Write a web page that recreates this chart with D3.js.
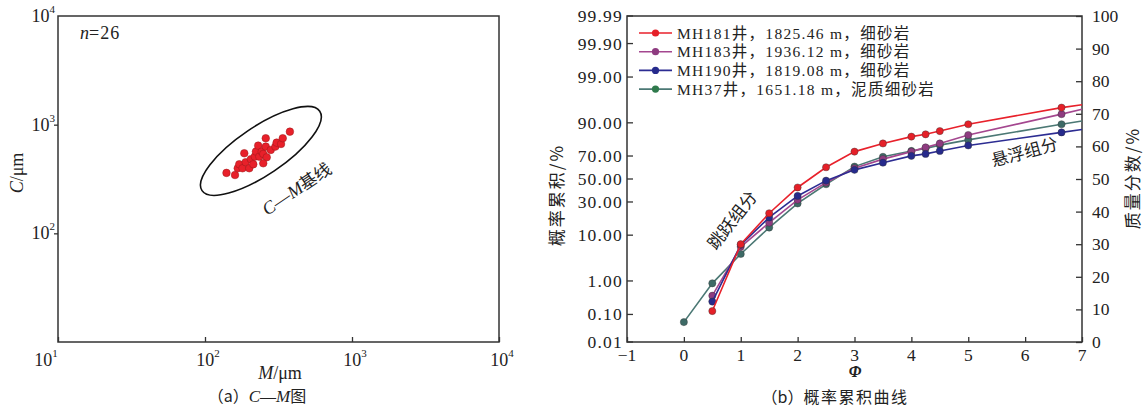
<!DOCTYPE html>
<html>
<head>
<meta charset="utf-8">
<script src="https://cdn.jsdelivr.net/npm/d3@7"></script>
<style>
  body { margin: 0; background: #fff; }
  svg { display: block; }
  text { font-family: "Liberation Serif", "Noto Sans CJK SC", serif; fill: #222; }
  .cjk { font-family: "Noto Sans CJK SC", sans-serif; }
  .axis path, .axis line { stroke: #333; stroke-width: 1.3; }
  .axis text { display: none; }
</style>
</head>
<body>
<script>
// ---- panel (a) data: C-M points, um ----
const cmM = [140, 160, 167, 171, 180, 185, 189, 200, 205, 213, 218, 222, 230,
  234, 243, 249, 259, 259, 263, 280, 301, 307, 329, 338, 378, 249]
const cmC = [360, 344, 397, 432, 397, 546, 451, 397, 481, 432, 508, 565, 641,
  508, 565, 538, 750, 628, 501, 585, 628, 683, 664, 750, 862, 441]
const logTicks = [10, 100, 1000, 10000]

// ---- panel (b) data: cumulative curves, mass fraction % ----
const phi = [0.5, 1, 1.5, 2, 2.5, 3, 3.5, 4, 4.25, 4.5, 5, 6.64]
const phiGreen = [0, 0.5, 1, 1.5, 2, 2.5, 3, 3.5, 4, 4.25, 4.5, 5, 6.64]
const mh181 = [9.5, 30.0, 39.5, 47.4, 53.6, 58.4, 60.9, 63.0, 63.7, 64.7, 66.8, 71.9]
const mh183 = [14.2, 29.2, 36.6, 43.6, 48.9, 53.3, 56.1, 58.4, 59.7, 60.9, 63.5, 69.9]
const mh190 = [12.4, 29.8, 38.2, 44.8, 49.5, 52.8, 55.0, 57.1, 57.7, 58.6, 60.3, 64.3]
const mh37 = [6.1, 18.0, 27.0, 35.1, 42.5, 48.4, 53.8, 56.8, 58.6, 59.4, 60.4, 62.0, 66.8]
// value where each line leaves the frame at phi = 7
const tailValues = [72.8, 71.4, 65.2, 67.8]
const seriesNames = ['MH181井，1825.46 m，细砂岩', 'MH183井，1936.12 m，细砂岩',
  'MH190井，1819.08 m，细砂岩', 'MH37井，1651.18 m，泥质细砂岩']
const probTicks = ['0.01', '0.10', '1.00', '10.00', '30.00', '50.00', '70.00', '90.00', '99.00', '99.90', '99.99']
const phiTicks = [-1, 0, 1, 2, 3, 4, 5, 6, 7]
const massTicks = [0, 10, 20, 30, 40, 50, 60, 70, 80, 90, 100]

// colors
const lineColors = ['#e8212b', '#a4478f', '#2c2c92', '#4b7874']
const dotColors = ['#e52028', '#8e3b80', '#262a8c', '#3d6a66']
const legendDot = ['#e52028', '#8e3b80', '#262a8c', '#2f7a4c']

// inverse normal cdf (Acklam), for the probability axis
function probit(p) {
  const a = [-39.69683028665376, 220.9460984245205, -275.9285104469687, 138.3577518672690, -30.66479806614716, 2.506628277459239]
  const b = [-54.47609879822406, 161.5858368580409, -155.6989798598866, 66.80131188771972, -13.28068155288572]
  const c = [-0.007784894002430293, -0.3223964580411365, -2.400758277161838, -2.549732539343734, 4.374664141464968, 2.938163982698783]
  const d = [0.007784695709041462, 0.3224671290700398, 2.445134137142996, 3.754408661907416]
  const pl = 0.02425
  let q, r
  if (p < pl) {
    q = Math.sqrt(-2 * Math.log(p))
    return (((((c[0]*q+c[1])*q+c[2])*q+c[3])*q+c[4])*q+c[5]) / ((((d[0]*q+d[1])*q+d[2])*q+d[3])*q+1)
  } else if (p <= 1 - pl) {
    q = p - 0.5; r = q * q
    return (((((a[0]*r+a[1])*r+a[2])*r+a[3])*r+a[4])*r+a[5])*q / (((((b[0]*r+b[1])*r+b[2])*r+b[3])*r+b[4])*r+1)
  }
  q = Math.sqrt(-2 * Math.log(1 - p))
  return -(((((c[0]*q+c[1])*q+c[2])*q+c[3])*q+c[4])*q+c[5]) / ((((d[0]*q+d[1])*q+d[2])*q+d[3])*q+1)
}

const $svg = d3.select('body').append('svg').attr('width', 1145).attr('height', 407)

// ================= panel (a) =================
const aLeft = 58, aRight = 499, plotTop = 16, plotBottom = 342
const scaleM = d3.scaleLog().domain([10, 1e4]).range([aLeft, aRight])
const scaleC = d3.scaleLog().domain([10, 1e4]).range([plotBottom, plotTop])

const $a = $svg.append('g')

$a.append('rect')
  .attr('x', aLeft).attr('y', plotTop)
  .attr('width', aRight - aLeft).attr('height', plotBottom - plotTop)
  .attr('fill', 'none').attr('stroke', '#333').attr('stroke-width', 1.5)

// x ticks point inward, y ticks outward
$a.append('g').attr('class', 'axis')
  .attr('transform', `translate(0,${plotBottom})`)
  .call(d3.axisBottom(scaleM).tickValues(logTicks).tickSize(-5).tickSizeOuter(0))
  .select('.domain').remove()
$a.append('g').attr('class', 'axis')
  .attr('transform', `translate(${aLeft},0)`)
  .call(d3.axisLeft(scaleC).tickValues([100, 1000]).tickSize(4).tickSizeOuter(0))
  .select('.domain').remove()

function powLabel(sel, v) {
  const e = Math.round(Math.log10(v))
  sel.append('tspan').text('10')
  sel.append('tspan').text(e).attr('dy', -9).attr('font-size', 11)
}

$a.selectAll('.xlab')
  .data(logTicks)
  .enter().append('text')
  .attr('x', d => scaleM(d) + (d === 10 ? -12 : 3))
  .attr('y', 366)
  .attr('text-anchor', 'middle')
  .attr('font-size', 18)
  .each(function(d) { powLabel(d3.select(this), d) })

$a.selectAll('.ylab')
  .data([100, 1000, 10000])
  .enter().append('text')
  .attr('x', 55)
  .attr('y', d => scaleC(d) + 6)
  .attr('text-anchor', 'end')
  .attr('font-size', 18)
  .each(function(d) { powLabel(d3.select(this), d) })

// base line ellipse around the cloud
const ellCx = scaleM(240), ellCy = scaleC(573)
$a.append('ellipse')
  .attr('cx', 0).attr('cy', 0).attr('rx', 71).attr('ry', 24)
  .attr('transform', `translate(${ellCx},${ellCy}) rotate(-34)`)
  .attr('fill', 'none').attr('stroke', '#111').attr('stroke-width', 1.6)

$a.selectAll('.pt')
  .data(cmM.map((m, i) => ({ m, c: cmC[i] })))
  .enter().append('circle')
  .attr('cx', d => scaleM(d.m))
  .attr('cy', d => scaleC(d.c))
  .attr('r', 3.8)
  .attr('fill', '#e8202a')
  .attr('stroke', '#9a1a1a').attr('stroke-width', 0.5)

const cmLabel = $a.append('text')
  .attr('transform', 'translate(300,194) rotate(-34)')
  .attr('text-anchor', 'middle')
  .attr('font-size', 18)
cmLabel.append('tspan').text('C').attr('font-style', 'italic')
cmLabel.append('tspan').text('—')
cmLabel.append('tspan').text('M').attr('font-style', 'italic')
cmLabel.append('tspan').text('基线').attr('class', 'cjk').attr('font-size', 17)

const nLabel = $a.append('text').attr('x', 80).attr('y', 39).attr('font-size', 18)
nLabel.append('tspan').text('n').attr('font-style', 'italic')
nLabel.append('tspan').text('=26').attr('letter-spacing', 1)

const mTitle = $a.append('text').attr('x', 280).attr('y', 379)
  .attr('text-anchor', 'middle').attr('font-size', 18)
mTitle.append('tspan').text('M').attr('font-style', 'italic')
mTitle.append('tspan').text('/μm')

const cTitle = $a.append('text').attr('transform', 'translate(23,173) rotate(-90)')
  .attr('text-anchor', 'middle').attr('font-size', 18)
cTitle.append('tspan').text('C').attr('font-style', 'italic')
cTitle.append('tspan').text('/μm')

const capA = $a.append('text').attr('x', 257).attr('y', 402)
  .attr('text-anchor', 'middle').attr('font-size', 16)
capA.append('tspan').text('（a）').attr('class', 'cjk')
capA.append('tspan').text('C').attr('font-style', 'italic').attr('font-size', 17)
capA.append('tspan').text('—')
capA.append('tspan').text('M').attr('font-style', 'italic').attr('font-size', 17)
capA.append('tspan').text('图').attr('class', 'cjk')

// ================= panel (b) =================
const bl = 627, br = 1082
const scalePhi = d3.scaleLinear().domain([-1, 7]).range([bl, br])
const scaleMass = d3.scaleLinear().domain([0, 100]).range([plotBottom, plotTop])
const scaleProb = d3.scaleLinear().domain([probit(0.0001), probit(0.9999)]).range([plotBottom, plotTop])
const probY = s => scaleProb(probit(+s / 100))

const $b = $svg.append('g')

$b.append('rect')
  .attr('x', bl).attr('y', plotTop)
  .attr('width', br - bl).attr('height', plotBottom - plotTop)
  .attr('fill', 'none').attr('stroke', '#333').attr('stroke-width', 1.5)

$b.append('g').attr('class', 'axis')
  .attr('transform', `translate(0,${plotBottom})`)
  .call(d3.axisBottom(scalePhi).tickValues(phiTicks).tickSize(-5).tickSizeOuter(0))
  .select('.domain').remove()
$b.append('g').attr('class', 'axis')
  .attr('transform', `translate(${br},0)`)
  .call(d3.axisRight(scaleMass).tickValues(massTicks).tickSize(-6).tickSizeOuter(0))
  .select('.domain').remove()

$b.selectAll('.ptick')
  .data(probTicks)
  .enter().append('line')
  .attr('x1', bl).attr('x2', bl + 6)
  .attr('y1', d => probY(d)).attr('y2', d => probY(d))
  .attr('stroke', '#333').attr('stroke-width', 1.3)

$b.selectAll('.plab')
  .data(probTicks)
  .enter().append('text')
  .attr('x', 623)
  .attr('y', d => probY(d) + 6)
  .attr('text-anchor', 'end')
  .attr('font-size', 17.5)
  .attr('letter-spacing', 1.2)
  .text(d => d)

$b.selectAll('.mlab')
  .data(massTicks)
  .enter().append('text')
  .attr('x', 1092)
  .attr('y', d => scaleMass(d) + 6)
  .attr('font-size', 17.5)
  .text(d => d)

$b.selectAll('.flab')
  .data(phiTicks)
  .enter().append('text')
  .attr('x', d => scalePhi(d))
  .attr('y', 361)
  .attr('text-anchor', 'middle')
  .attr('font-size', 17.5)
  .text(d => d < 0 ? '−' + Math.abs(d) : d)

// curves
const seriesData = [
  { xs: phi, ys: mh181 },
  { xs: phi, ys: mh183 },
  { xs: phi, ys: mh190 },
  { xs: phiGreen, ys: mh37 }
].map((s, i) => ({
  pts: s.xs.map((x, j) => ({ x, y: s.ys[j] })),
  tail: { x: 7, y: tailValues[i] },
  i
}))

const line = d3.line().x(d => scalePhi(d.x)).y(d => scaleMass(d.y))

// draw green first so red stays on top
const drawOrder = [3, 1, 2, 0]
drawOrder.forEach(k => {
  const s = seriesData[k]
  $b.append('path')
    .datum(s.pts.concat([s.tail]))
    .attr('d', line)
    .attr('fill', 'none')
    .attr('stroke', lineColors[k])
    .attr('stroke-width', 1.6)
  $b.selectAll(`.dot${k}`)
    .data(s.pts)
    .enter().append('circle')
    .attr('cx', d => scalePhi(d.x))
    .attr('cy', d => scaleMass(d.y))
    .attr('r', 3.6)
    .attr('fill', dotColors[k])
    .attr('stroke', '#333').attr('stroke-width', 0.4)
})

// legend
const $legend = $b.append('g').attr('transform', 'translate(639,33)')
const legendRows = $legend.selectAll('.row')
  .data(seriesNames)
  .enter().append('g')
  .attr('transform', (d, i) => `translate(0,${i * 18.7})`)
legendRows.append('line')
  .attr('x1', 0).attr('x2', 33)
  .attr('stroke', (d, i) => lineColors[i]).attr('stroke-width', 1.6)
legendRows.append('circle')
  .attr('cx', 16.5).attr('r', 3.6)
  .attr('fill', (d, i) => legendDot[i])
legendRows.append('text')
  .attr('x', 38).attr('y', 5.5)
  .attr('font-size', 15.5)
  .attr('letter-spacing', 1.3)
  .text(d => d)

// component labels
$b.append('text')
  .attr('class', 'cjk')
  .attr('transform', 'translate(737,224) rotate(-52)')
  .attr('text-anchor', 'middle')
  .attr('font-size', 17)
  .text('跳跃组分')
$b.append('text')
  .attr('class', 'cjk')
  .attr('transform', 'translate(1026,158) rotate(-15)')
  .attr('text-anchor', 'middle')
  .attr('font-size', 17)
  .text('悬浮组分')

// axis titles
$b.append('text')
  .attr('x', 855).attr('y', 377)
  .attr('text-anchor', 'middle')
  .attr('font-size', 16)
  .attr('font-style', 'italic').attr('font-weight', 'bold')
  .text('Φ')
$b.append('text')
  .attr('class', 'cjk')
  .attr('transform', 'translate(563,195) rotate(-90)')
  .attr('text-anchor', 'middle')
  .attr('font-size', 17)
  .attr('letter-spacing', 2)
  .text('概率累积/%')
$b.append('text')
  .attr('class', 'cjk')
  .attr('transform', 'translate(1139,178) rotate(-90)')
  .attr('text-anchor', 'middle')
  .attr('font-size', 17)
  .attr('letter-spacing', 2)
  .text('质量分数/%')

const capB = $b.append('text').attr('x', 835).attr('y', 403)
  .attr('text-anchor', 'middle').attr('font-size', 16)
capB.append('tspan').text('（b）').attr('class', 'cjk')
capB.append('tspan').text('概率累积曲线').attr('class', 'cjk').attr('letter-spacing', 1.5)
</script>
</body>
</html>
